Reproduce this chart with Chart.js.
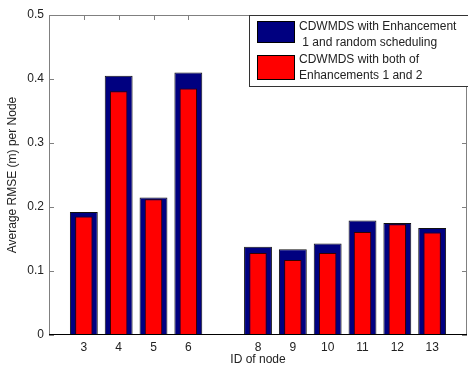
<!DOCTYPE html>
<html>
<head>
<meta charset="utf-8">
<script src="https://cdn.jsdelivr.net/npm/chart.js@4.4.1/dist/chart.umd.min.js"></script>
<style>
  html, body { margin: 0; padding: 0; background: #fff; }
  #wrap { width: 468px; height: 367px; }
</style>
</head>
<body>
<div id="wrap"><canvas id="rmseChart" width="468" height="367"></canvas></div>
<script>
const nodeIds = [3, 4, 5, 6, 8, 9, 10, 11, 12, 13];
const rmseEnh1Random = [0.192, 0.405, 0.215, 0.410, 0.138, 0.134, 0.143, 0.179, 0.175, 0.167];
const rmseEnhBoth = [0.185, 0.381, 0.212, 0.385, 0.128, 0.117, 0.128, 0.161, 0.173, 0.160];
const yTicks = [0, 0.1, 0.2, 0.3, 0.4, 0.5];
const legendLines = [
    ['CDWMDS with Enhancement', ' 1 and random scheduling'],
    ['CDWMDS with both of', 'Enhancements 1 and 2']
];
const seriesColors = ['#000080', '#ff0000'];

const FONT = 'Arial, "Liberation Sans", sans-serif';

// matlab style box, inward ticks, titles and the legend
const matlabFrame = {
    id: 'matlabFrame',
    beforeDatasetsDraw(chart) {
        const { ctx, chartArea: a, scales: { x, y } } = chart;
        ctx.save();
        ctx.strokeStyle = '#808080';
        ctx.lineWidth = 1;
        ctx.beginPath();
        ctx.moveTo(a.left + 0.5, a.bottom);
        ctx.lineTo(a.left + 0.5, a.top + 0.5);
        ctx.lineTo(a.right - 0.5, a.top + 0.5);
        ctx.lineTo(a.right - 0.5, a.bottom);
        yTicks.forEach(v => {
            const py = Math.round(y.getPixelForValue(v)) + 0.5;
            ctx.moveTo(a.left, py);
            ctx.lineTo(a.left + 5, py);
            ctx.moveTo(a.right, py);
            ctx.lineTo(a.right - 5, py);
        });
        nodeIds.forEach(v => {
            const px = Math.round(x.getPixelForValue(v)) + 0.5;
            ctx.moveTo(px, a.top);
            ctx.lineTo(px, a.top + 5);
            ctx.moveTo(px, a.bottom);
            ctx.lineTo(px, a.bottom - 5);
        });
        ctx.stroke();
        ctx.restore();
    },
    afterDatasetsDraw(chart) {
        const { ctx, chartArea: a } = chart;
        ctx.save();
        // baseline
        ctx.strokeStyle = '#000';
        ctx.beginPath();
        ctx.moveTo(a.left, a.bottom - 0.5);
        ctx.lineTo(a.right, a.bottom - 0.5);
        ctx.stroke();

        // axis titles
        ctx.fillStyle = '#222';
        ctx.font = '12px ' + FONT;
        ctx.textAlign = 'center';
        ctx.textBaseline = 'middle';
        ctx.fillText('ID of node', (a.left + a.right) / 2, 360);
        ctx.translate(13, (a.top + a.bottom) / 2);
        ctx.rotate(-Math.PI / 2);
        ctx.fillText('Average RMSE (m) per Node', 0, 0);
        ctx.restore();

        // legend
        ctx.save();
        ctx.fillStyle = '#fff';
        ctx.strokeStyle = '#333';
        ctx.lineWidth = 1;
        ctx.fillRect(249.5, 15.5, 230, 71);
        ctx.strokeRect(249.5, 15.5, 230, 71);
        ctx.font = '12px ' + FONT;
        ctx.textAlign = 'left';
        ctx.textBaseline = 'middle';
        legendLines.forEach((lines, i) => {
            const top = 21.5 + i * 34;
            ctx.fillStyle = seriesColors[i];
            ctx.fillRect(257.5, top, 37, i === 0 ? 21 : 24);
            ctx.strokeStyle = '#000';
            ctx.strokeRect(257.5, top, 37, i === 0 ? 21 : 24);
            ctx.fillStyle = '#222';
            ctx.fillText(lines[0], 299, 27 + i * 33);
            ctx.fillText(lines[1], 299, 43 + i * 33);
        });
        ctx.restore();
    }
};

new Chart(document.getElementById('rmseChart').getContext('2d'), {
    type: 'bar',
    plugins: [matlabFrame],
    data: {
        datasets: [{
            label: 'CDWMDS with Enhancement 1 and random scheduling',
            data: nodeIds.map((n, i) => ({ x: n, y: rmseEnh1Random[i] })),
            backgroundColor: seriesColors[0],
            borderColor: '#111',
            borderWidth: 1,
            barPercentage: 0.8,
            categoryPercentage: 1,
            grouped: false,
            order: 2
        }, {
            label: 'CDWMDS with both of Enhancements 1 and 2',
            data: nodeIds.map((n, i) => ({ x: n, y: rmseEnhBoth[i] })),
            backgroundColor: seriesColors[1],
            borderColor: '#300',
            borderWidth: 1,
            barPercentage: 0.5,
            categoryPercentage: 1,
            grouped: false,
            order: 1
        }]
    },
    options: {
        responsive: false,
        animation: false,
        layout: { padding: { top: 15, right: 1, left: 0, bottom: 0 } },
        plugins: {
            legend: { display: false },
            tooltip: { enabled: false }
        },
        scales: {
            x: {
                type: 'linear',
                offset: false,
                min: 2,
                max: 14,
                afterBuildTicks: (scale) => {
                    scale.ticks = nodeIds.map(v => ({ value: v }));
                },
                afterFit: (scale) => { scale.height = 32; },
                grid: { display: false, drawTicks: false, offset: false },
                border: { display: false },
                ticks: {
                    padding: 5,
                    color: '#222',
                    font: { family: FONT, size: 12 },
                    autoSkip: false,
                    maxRotation: 0,
                    callback: (v) => String(v)
                }
            },
            y: {
                min: 0,
                max: 0.5,
                afterBuildTicks: (scale) => {
                    scale.ticks = yTicks.map(v => ({ value: v }));
                },
                afterFit: (scale) => { scale.width = 49; },
                grid: { display: false, drawTicks: false },
                border: { display: false },
                ticks: {
                    padding: 5,
                    color: '#222',
                    font: { family: FONT, size: 12 },
                    callback: (v) => v === 0 ? '0' : v.toFixed(1)
                }
            }
        }
    }
});
</script>
</body>
</html>
